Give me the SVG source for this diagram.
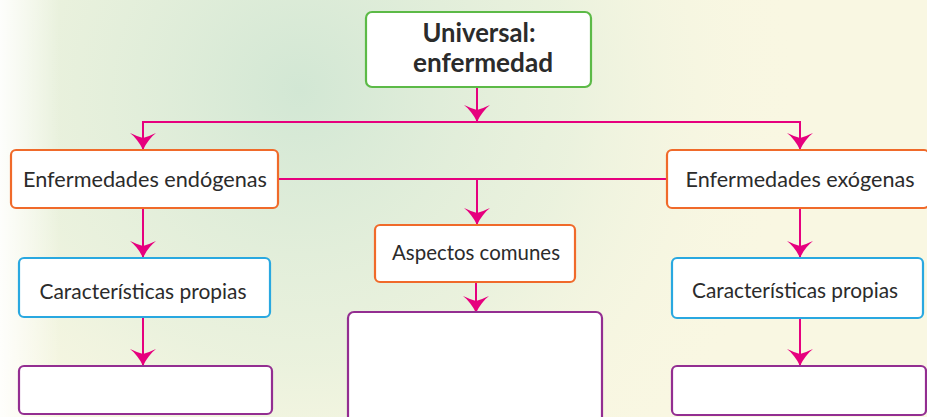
<svg xmlns="http://www.w3.org/2000/svg" width="927" height="417" viewBox="0 0 927 417">
<defs>
<radialGradient id="bgG" cx="300" cy="90" r="500" gradientUnits="userSpaceOnUse">
<stop offset="0" stop-color="#d2e7d4"/>
<stop offset="0.55" stop-color="#e6f0dc" stop-opacity="0.75"/>
<stop offset="1" stop-color="#f9f7e2" stop-opacity="0"/>
</radialGradient>
<linearGradient id="leftW" x1="0" y1="0" x2="60" y2="0" gradientUnits="userSpaceOnUse">
<stop offset="0" stop-color="#ffffff" stop-opacity="0.9"/>
<stop offset="1" stop-color="#ffffff" stop-opacity="0"/>
</linearGradient>
<marker id="arr" markerUnits="userSpaceOnUse" markerWidth="24" markerHeight="30" viewBox="-20 -15 22 30" refX="0" refY="0" orient="auto">
<path d="M0,0 C-7,-3 -13,-8 -17,-13 C-15,-8 -13,-4 -12,0 C-13,4 -15,8 -17,13 C-13,8 -7,3 0,0 Z" fill="#e6007e"/>
</marker>
<style>
.box{fill:#ffffff;stroke-width:2.2}
.g{stroke:#5cba47}
.o{stroke:#f06a2a}
.b{stroke:#29a8e0}
.p{stroke:#932e91}
.t{font-family:Lato,"Liberation Sans",sans-serif;font-size:21px;fill:#2b2b2b;text-anchor:middle}
.tb{font-family:Lato,"Liberation Sans",sans-serif;font-size:26px;font-weight:bold;fill:#2b2b2b;text-anchor:middle}
.c{fill:none;stroke:#e6007e;stroke-width:2}
</style>
</defs>
<rect x="0" y="0" width="927" height="417" fill="#f9f7e2"/>
<rect x="0" y="0" width="927" height="417" fill="url(#bgG)"/>
<rect x="0" y="0" width="60" height="417" fill="url(#leftW)"/>

<g id="connectors">
<path class="c" d="M477,87 V122" marker-end="url(#arr)"/>
<path class="c" d="M477,122 H143 V150" marker-end="url(#arr)"/>
<path class="c" d="M477,122 H800 V150" marker-end="url(#arr)"/>
<path class="c" d="M278,179 H667"/>
<path class="c" d="M477,179 V225" marker-end="url(#arr)"/>
<path class="c" d="M476,282 V313" marker-end="url(#arr)"/>
<path class="c" d="M143,208 V258" marker-end="url(#arr)"/>
<path class="c" d="M143,317 V366" marker-end="url(#arr)"/>
<path class="c" d="M800,208 V258" marker-end="url(#arr)"/>
<path class="c" d="M800,318 V366" marker-end="url(#arr)"/>
</g>

<g id="universal">
<rect class="box g" x="366" y="12" width="225" height="75" rx="6"/>
<text class="tb" x="479" y="42" textLength="113" lengthAdjust="spacingAndGlyphs">Universal:</text>
<text class="tb" x="483" y="72" textLength="140" lengthAdjust="spacingAndGlyphs">enfermedad</text>
</g>

<g id="endogenas">
<rect class="box o" x="11" y="150" width="267" height="58" rx="5"/>
<text class="t" x="145" y="187" textLength="244" lengthAdjust="spacingAndGlyphs">Enfermedades endógenas</text>
</g>

<g id="exogenas">
<rect class="box o" x="667" y="150" width="262" height="58" rx="5"/>
<text class="t" x="800" y="187" textLength="229" lengthAdjust="spacingAndGlyphs">Enfermedades exógenas</text>
</g>

<g id="aspectos">
<rect class="box o" x="375" y="225" width="200" height="57" rx="5"/>
<text class="t" x="476" y="260" textLength="168" lengthAdjust="spacingAndGlyphs">Aspectos comunes</text>
</g>

<g id="caract-izq">
<rect class="box b" x="19" y="258" width="251" height="59" rx="5"/>
<text class="t" x="143" y="299" textLength="207" lengthAdjust="spacingAndGlyphs">Características propias</text>
</g>

<g id="caract-der">
<rect class="box b" x="672" y="258" width="251" height="60" rx="5"/>
<text class="t" x="795" y="298" textLength="206" lengthAdjust="spacingAndGlyphs">Características propias</text>
</g>

<g id="vacio-izq">
<rect class="box p" x="19" y="366" width="253" height="48" rx="5"/>
</g>

<g id="vacio-centro">
<rect class="box p" x="348" y="312" width="254" height="120" rx="6"/>
</g>

<g id="vacio-der">
<rect class="box p" x="672" y="366" width="254" height="49" rx="5"/>
</g>
</svg>
